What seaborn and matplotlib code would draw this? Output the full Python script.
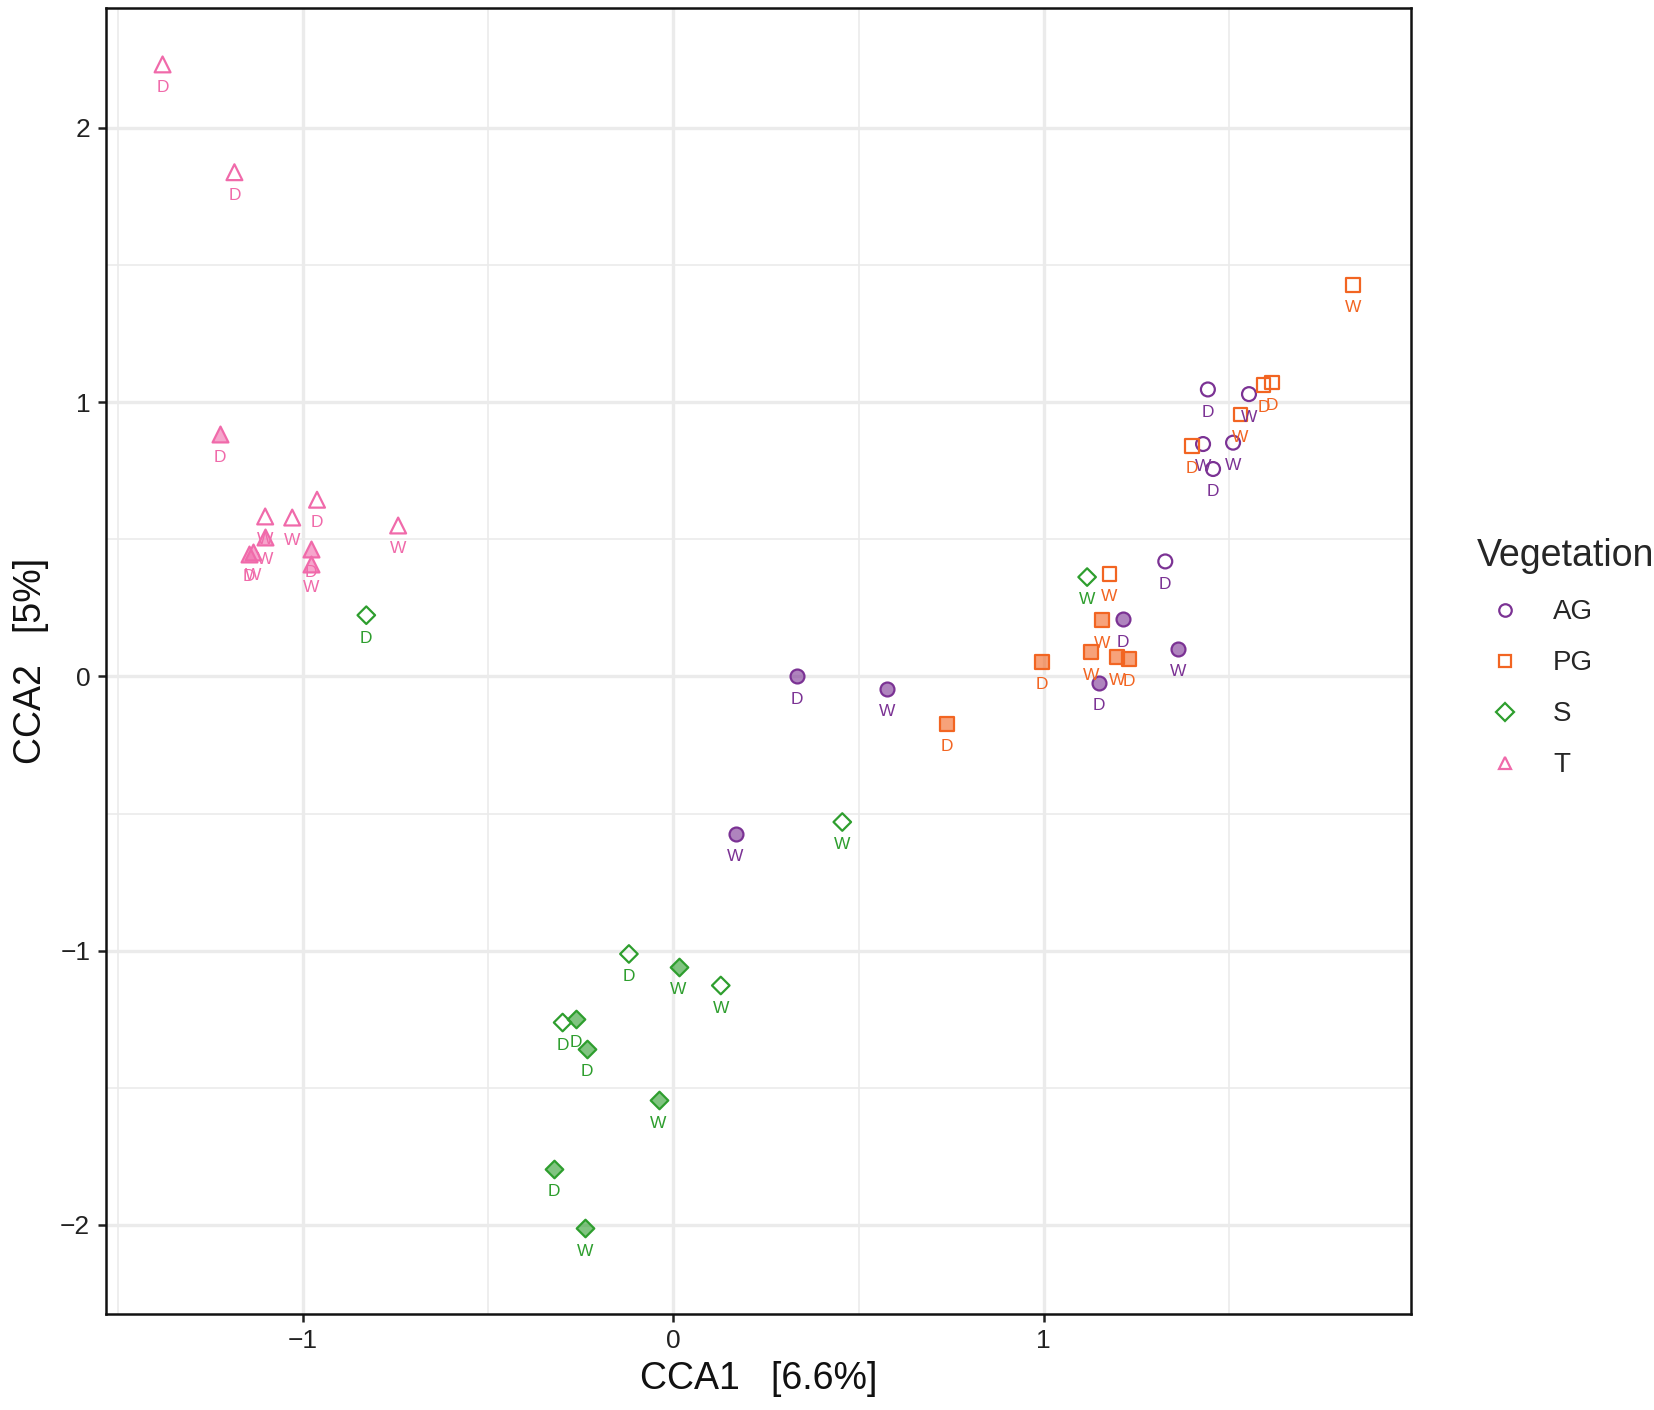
import numpy as np
import pandas as pd
import seaborn as sns
import matplotlib.pyplot as plt
from matplotlib.lines import Line2D

## Data
vegetation = ['T'] * 12 + ['S'] * 12 + ['AG'] * 12 + ['PG'] * 12

cca1 = [-1.379, -1.185, -1.225, -1.102, -1.102, -1.145, -1.135, -1.029, -0.962, -0.979, -0.979, -0.743,
        -0.829, 1.117, 0.456, -0.120, 0.014, 0.128, -0.299, -0.262, -0.234, -0.040, -0.322, -0.239,
        1.443, 1.554, 1.430, 1.511, 1.457, 1.328, 1.214, 1.362, 1.148, 0.333, 0.578, 0.168,
        1.835, 1.594, 1.616, 1.531, 1.400, 1.177, 1.157, 1.128, 1.197, 1.231, 0.994, 0.738]

cca2 = [2.231, 1.838, 0.882, 0.583, 0.508, 0.447, 0.453, 0.579, 0.644, 0.463, 0.408, 0.550,
        0.223, 0.362, -0.531, -1.012, -1.058, -1.127, -1.262, -1.250, -1.358, -1.546, -1.796, -2.012,
        1.046, 1.029, 0.847, 0.852, 0.756, 0.419, 0.208, 0.100, -0.023, 0.000, -0.046, -0.573,
        1.427, 1.062, 1.070, 0.955, 0.840, 0.373, 0.204, 0.088, 0.069, 0.065, 0.054, -0.173]

season = ['D', 'D', 'D', 'W', 'W', 'D', 'W', 'W', 'D', 'D', 'W', 'W',
          'D', 'W', 'W', 'D', 'W', 'W', 'D', 'D', 'D', 'W', 'D', 'W',
          'D', 'W', 'W', 'W', 'D', 'D', 'D', 'W', 'D', 'D', 'W', 'W',
          'W', 'D', 'D', 'W', 'D', 'W', 'W', 'W', 'W', 'D', 'D', 'D']

filled = [0, 0, 1, 0, 1, 1, 1, 0, 0, 1, 1, 0,
          0, 0, 0, 0, 1, 0, 0, 1, 1, 1, 1, 1,
          0, 0, 0, 0, 0, 0, 1, 1, 1, 1, 1, 1,
          0, 0, 0, 0, 0, 0, 1, 1, 1, 1, 1, 1]

groups = ['AG', 'PG', 'S', 'T']
colors = {'AG': '#7B3294', 'PG': '#F26522', 'S': '#2E9E2E', 'T': '#F06AAA'}
markers = {'AG': 'o', 'PG': 's', 'S': 'D', 'T': '^'}
sizes = {'AG': 100, 'PG': 90, 'S': 80, 'T': 130}

df = pd.DataFrame({'Vegetation': vegetation, 'CCA1': cca1, 'CCA2': cca2,
                   'Season': season, 'Filled': filled})

## Style, ggplot theme_bw look
sns.set_theme(style='white')
plt.rcParams['font.family'] = ['Liberation Sans', 'DejaVu Sans']

fig = plt.figure(figsize=(16.54, 14.10), dpi=100)
ax = fig.add_axes([0.0638, 0.0684, 0.7892, 0.9256])

for g in groups:
    col = colors[g]
    sub = df[(df.Vegetation == g) & (df.Filled == 0)]
    sns.scatterplot(data=sub, x='CCA1', y='CCA2', ax=ax, marker=markers[g], s=sizes[g],
                    color=col, facecolor='none', edgecolor=col, linewidth=1.6, zorder=3)
    sub = df[(df.Vegetation == g) & (df.Filled == 1)]
    sns.scatterplot(data=sub, x='CCA1', y='CCA2', ax=ax, marker=markers[g], s=sizes[g],
                    color=col, facecolor=(*plt.matplotlib.colors.to_rgb(col), 0.6),
                    edgecolor=col, linewidth=1.6, zorder=3)

# D / W labels under each point
for _, r in df.iterrows():
    ax.annotate(r.Season, (r.CCA1, r.CCA2), xytext=(0, -16.5), textcoords='offset points',
                ha='center', va='center', fontsize=12.5, color=colors[r.Vegetation], zorder=4)

ax.set_xlim(-1.533, 1.991)
ax.set_ylim(-2.323, 2.435)
ax.set_xticks([-1, 0, 1])
ax.set_yticks([-2, -1, 0, 1, 2])
ax.set_xticks([-1.5, -0.5, 0.5, 1.5], minor=True)
ax.set_yticks([-1.5, -0.5, 0.5, 1.5], minor=True)
ax.grid(which='major', color='#EBEBEB', linewidth=2.4, zorder=0)
ax.grid(which='minor', color='#EBEBEB', linewidth=1.2, zorder=0)
ax.set_axisbelow(True)
ax.tick_params(which='major', direction='out', length=6, width=1.8, color='#222222',
               labelsize=19, labelcolor='#222222', left=True, bottom=True, pad=5)
ax.tick_params(which='minor', length=0)
for sp in ax.spines.values():
    sp.set_color('#111111')
    sp.set_linewidth(1.8)

ax.set_xlabel('CCA1   [6.6%]', fontsize=27, color='#111111', labelpad=6)
ax.set_ylabel('CCA2   [5%]', fontsize=27, color='#111111', labelpad=8)

## Legend with open markers
handles = [Line2D([], [], linestyle='none', marker=markers[g], markersize=9,
                  markerfacecolor='none', markeredgecolor=colors[g], markeredgewidth=1.6)
           for g in groups]
leg = fig.legend(handles, groups, title='Vegetation', loc='center left',
                 bbox_to_anchor=(0.8845, 0.533), frameon=False, fontsize=20,
                 title_fontsize=27, labelspacing=0.9, handletextpad=0.75,
                 borderpad=0, alignment='left')

fig.savefig('out.png', dpi=100)
